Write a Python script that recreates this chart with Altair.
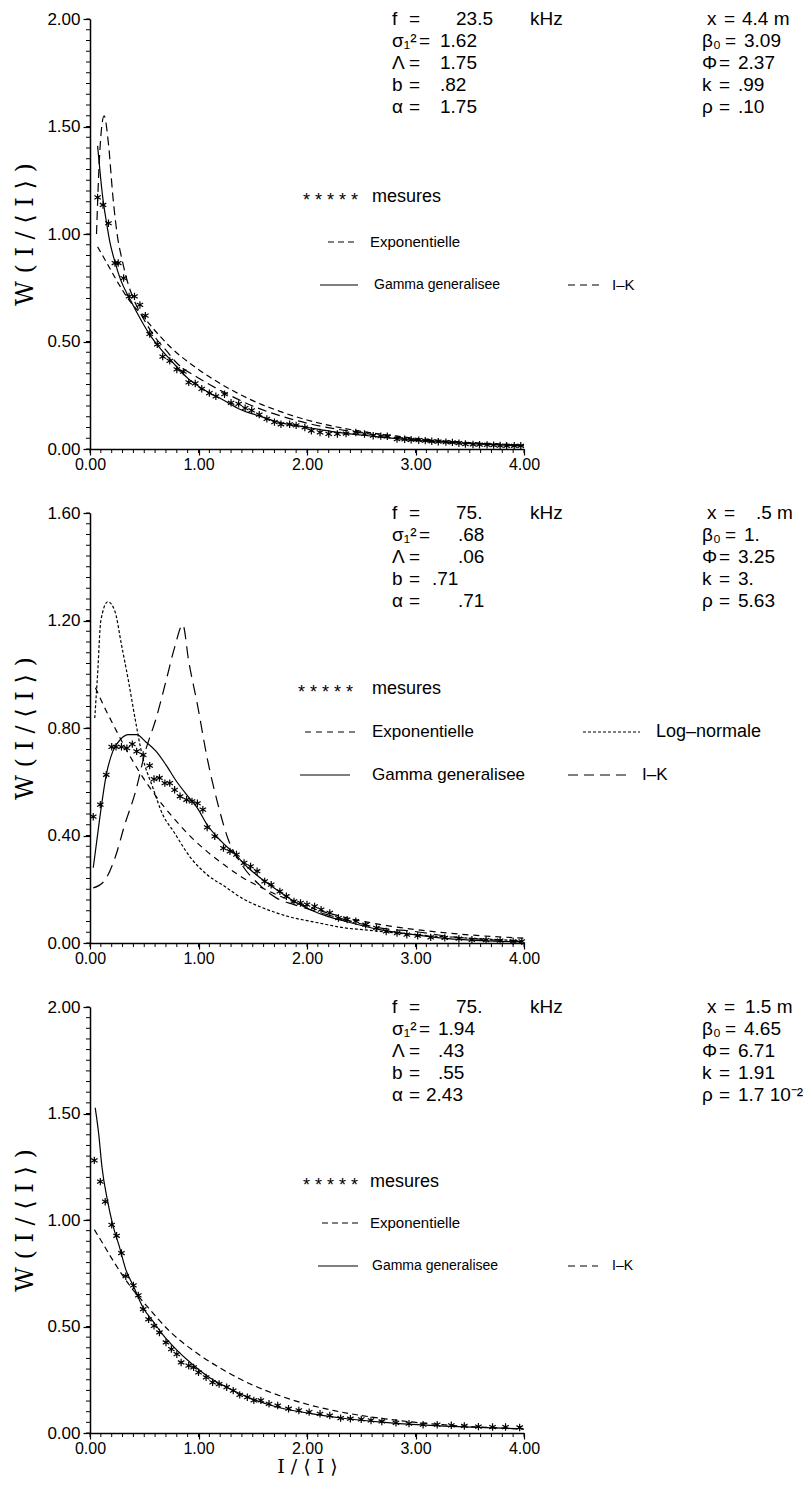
import altair as alt
import pandas as pd

# ---------------- data ----------------
# Panel 1 : f = 23.5 kHz, x = 4.4 m
p1_mes_x = [0.07, 0.12, 0.17, 0.23, 0.26, 0.31, 0.36, 0.41, 0.46, 0.51, 0.55, 0.62, 0.67, 0.735, 0.80, 0.86,
            0.91, 0.97, 1.03, 1.10, 1.16, 1.24, 1.30, 1.37, 1.43, 1.49, 1.56, 1.63, 1.70, 1.76, 1.84, 1.90,
            1.98, 2.04, 2.12, 2.20, 2.28, 2.36, 2.45, 2.53, 2.61, 2.68, 2.74, 2.83, 2.90, 2.96, 3.03, 3.09,
            3.15, 3.21, 3.28, 3.34, 3.40, 3.46, 3.53, 3.59, 3.66, 3.72, 3.78, 3.84, 3.91, 3.97]
p1_mes_y = [1.17, 1.135, 1.05, 0.865, 0.865, 0.795, 0.71, 0.71, 0.67, 0.62, 0.535, 0.487, 0.43, 0.41, 0.37, 0.36,
            0.31, 0.305, 0.28, 0.26, 0.245, 0.255, 0.215, 0.21, 0.19, 0.18, 0.16, 0.14, 0.125, 0.115, 0.115, 0.11,
            0.10, 0.085, 0.077, 0.07, 0.07, 0.072, 0.077, 0.07, 0.062, 0.06, 0.059, 0.046, 0.045, 0.043, 0.041, 0.039,
            0.036, 0.034, 0.032, 0.031, 0.027, 0.023, 0.021, 0.02, 0.019, 0.018, 0.016, 0.015, 0.015, 0.015]
p1_gam_x = [0.07, 0.10, 0.12, 0.15, 0.18, 0.23, 0.28, 0.37, 0.47, 0.56, 0.66, 0.75, 0.91, 1.07, 1.22, 1.38,
            1.55, 1.70, 1.85, 2.01, 2.25, 2.50, 2.75, 3.00, 3.25, 3.50, 3.75, 4.00]
p1_gam_y = [1.41, 1.25, 1.16, 1.06, 0.97, 0.87, 0.79, 0.695, 0.60, 0.525, 0.46, 0.41, 0.325, 0.27, 0.23, 0.185,
            0.155, 0.13, 0.113, 0.10, 0.08, 0.065, 0.052, 0.04, 0.032, 0.025, 0.019, 0.015]
p1_exp_x = [0.07, 0.15, 0.25, 0.35, 0.50, 0.60, 0.75, 1.00, 1.25, 1.50, 1.75, 2.00, 2.25, 2.50, 2.75, 3.00,
            3.25, 3.50, 3.75, 4.00]
p1_exp_y = [0.94, 0.87, 0.78, 0.70, 0.61, 0.55, 0.47, 0.37, 0.29, 0.225, 0.175, 0.135, 0.105, 0.082, 0.065, 0.05,
            0.039, 0.03, 0.024, 0.018]
p1_ik_x = [0.06, 0.09, 0.13, 0.17, 0.21, 0.25, 0.30, 0.35, 0.40, 0.50, 0.60, 0.70, 0.80, 1.00, 1.25, 1.50,
           1.75, 2.00, 2.50, 3.00, 3.50, 4.00]
p1_ik_y = [1.0, 1.38, 1.55, 1.42, 1.18, 1.0, 0.87, 0.77, 0.70, 0.60, 0.52, 0.46, 0.40, 0.33, 0.26, 0.20,
           0.155, 0.12, 0.075, 0.045, 0.028, 0.018]

# Panel 2 : f = 75 kHz, x = .5 m
p2_mes_x = [0.03, 0.095, 0.15, 0.20, 0.24, 0.29, 0.34, 0.39, 0.43, 0.49, 0.55, 0.59, 0.64, 0.69, 0.735, 0.78,
            0.83, 0.89, 0.94, 0.99, 1.04, 1.08, 1.15, 1.23, 1.29, 1.35, 1.42, 1.48, 1.54, 1.61, 1.67, 1.75,
            1.81, 1.88, 1.94, 2.00, 2.07, 2.13, 2.21, 2.29, 2.37, 2.45, 2.54, 2.64, 2.73, 2.83, 2.92, 3.02,
            3.14, 3.27, 3.40, 3.52, 3.65, 3.78, 3.90, 3.98]
p2_mes_y = [0.47, 0.515, 0.626, 0.73, 0.73, 0.73, 0.725, 0.74, 0.713, 0.70, 0.66, 0.61, 0.614, 0.595, 0.595, 0.57,
            0.546, 0.533, 0.527, 0.52, 0.496, 0.43, 0.397, 0.353, 0.341, 0.329, 0.298, 0.285, 0.267, 0.229, 0.217, 0.192,
            0.174, 0.155, 0.149, 0.143, 0.136, 0.124, 0.112, 0.093, 0.087, 0.081, 0.068, 0.056, 0.043, 0.037, 0.031, 0.027,
            0.021, 0.019, 0.016, 0.012, 0.011, 0.009, 0.006, 0.006]
p2_gam_x = [0.03, 0.085, 0.15, 0.21, 0.28, 0.355, 0.43, 0.51, 0.61, 0.70, 0.80, 0.89, 0.99, 1.08, 1.21, 1.34,
            1.46, 1.59, 1.72, 1.88, 2.03, 2.19, 2.35, 2.67, 2.99, 3.30, 3.62, 3.98]
p2_gam_y = [0.28, 0.45, 0.626, 0.713, 0.757, 0.775, 0.775, 0.75, 0.713, 0.663, 0.60, 0.552, 0.502, 0.44, 0.378, 0.329,
            0.279, 0.236, 0.198, 0.155, 0.124, 0.099, 0.081, 0.05, 0.031, 0.016, 0.009, 0.004]
p2_exp_x = [0.05, 0.13, 0.23, 0.32, 0.45, 0.61, 0.77, 0.93, 1.08, 1.24, 1.40, 1.56, 1.72, 1.88, 2.19, 2.50,
            2.75, 3.00, 3.50, 4.00]
p2_exp_y = [0.95, 0.88, 0.80, 0.73, 0.64, 0.545, 0.465, 0.395, 0.34, 0.29, 0.245, 0.21, 0.18, 0.153, 0.112, 0.082,
            0.064, 0.05, 0.03, 0.018]
p2_log_x = [0.044, 0.07, 0.10, 0.165, 0.23, 0.29, 0.355, 0.42, 0.48, 0.58, 0.67, 0.77, 0.93, 1.08, 1.24, 1.40,
            1.56, 1.72, 1.88, 2.03, 2.19, 2.35, 2.51, 2.99, 3.50, 3.94]
p2_log_y = [0.837, 1.0, 1.20, 1.27, 1.234, 1.11, 0.974, 0.825, 0.70, 0.577, 0.478, 0.415, 0.316, 0.254, 0.211, 0.167,
            0.136, 0.112, 0.093, 0.081, 0.068, 0.056, 0.05, 0.031, 0.018, 0.009]
p2_ik_x = [0.03, 0.13, 0.23, 0.32, 0.42, 0.51, 0.61, 0.70, 0.78, 0.855, 0.91, 0.99, 1.08, 1.18, 1.27, 1.40,
           1.56, 1.72, 1.88, 2.03, 2.35, 2.67, 2.99, 3.30, 3.98]
p2_ik_y = [0.205, 0.23, 0.316, 0.44, 0.564, 0.713, 0.837, 0.974, 1.10, 1.184, 1.048, 0.887, 0.688, 0.515, 0.39, 0.291,
           0.217, 0.167, 0.143, 0.124, 0.087, 0.056, 0.043, 0.025, 0.006]

# Panel 3 : f = 75 kHz, x = 1.5 m
p3_mes_x = [0.04, 0.095, 0.14, 0.20, 0.245, 0.29, 0.33, 0.40, 0.445, 0.49, 0.54, 0.59, 0.64, 0.70, 0.75, 0.80,
            0.84, 0.91, 0.955, 1.00, 1.07, 1.13, 1.19, 1.26, 1.32, 1.38, 1.45, 1.51, 1.575, 1.65, 1.73, 1.83,
            1.925, 2.02, 2.12, 2.21, 2.31, 2.40, 2.50, 2.59, 2.69, 2.82, 2.94, 3.07, 3.20, 3.33, 3.45, 3.58,
            3.71, 3.83, 3.96]
p3_mes_y = [1.28, 1.18, 1.086, 0.977, 0.926, 0.845, 0.736, 0.693, 0.646, 0.581, 0.534, 0.503, 0.472, 0.425, 0.394, 0.37,
            0.331, 0.316, 0.308, 0.285, 0.261, 0.238, 0.23, 0.215, 0.199, 0.179, 0.168, 0.153, 0.153, 0.137, 0.129, 0.114,
            0.106, 0.098, 0.09, 0.082, 0.07, 0.067, 0.064, 0.059, 0.054, 0.048, 0.044, 0.039, 0.039, 0.036, 0.033, 0.03,
            0.028, 0.028, 0.026]
p3_gam_x = [0.048, 0.08, 0.11, 0.16, 0.21, 0.27, 0.33, 0.40, 0.49, 0.59, 0.68, 0.78, 0.94, 1.10, 1.26, 1.42,
            1.73, 2.05, 2.37, 2.69, 3.01, 3.33, 3.64, 3.99]
p3_gam_y = [1.527, 1.405, 1.25, 1.094, 0.977, 0.876, 0.767, 0.69, 0.588, 0.518, 0.456, 0.40, 0.324, 0.261, 0.215, 0.176,
            0.121, 0.09, 0.067, 0.051, 0.039, 0.031, 0.025, 0.02]
p3_exp_x = [0.04, 0.10, 0.20, 0.30, 0.40, 0.50, 0.75, 1.00, 1.25, 1.50, 1.75, 2.00, 2.25, 2.50, 2.75, 3.00,
            3.25, 3.50, 3.75, 4.00]
p3_exp_y = [0.955, 0.905, 0.82, 0.74, 0.67, 0.61, 0.47, 0.37, 0.29, 0.225, 0.175, 0.135, 0.105, 0.082, 0.065, 0.05,
            0.039, 0.03, 0.024, 0.018]

# annotation texts
p1_left = [("f", "=", "23.5", "kHz"), ("σ₁²", "=", "1.62", ""), ("Λ", "=", "1.75", ""), ("b", "=", ".82", ""), ("α", "=", "1.75", "")]
p1_right = [("x", "=", "4.4  m"), ("β₀", "=", "3.09"), ("Φ", "=", "2.37"), ("k", "=", ".99"), ("ρ", "=", ".10")]
p2_left = [("f", "=", "75.", "kHz"), ("σ₁²", "=", ".68", ""), ("Λ", "=", ".06", ""), ("b", "=", ".71", ""), ("α", "=", ".71", "")]
p2_right = [("x", "=", ".5  m"), ("β₀", "=", "1."), ("Φ", "=", "3.25"), ("k", "=", "3."), ("ρ", "=", "5.63")]
p3_left = [("f", "=", "75.", "kHz"), ("σ₁²", "=", "1.94", ""), ("Λ", "=", ".43", ""), ("b", "=", ".55", ""), ("α", "=", "2.43", "")]
p3_right = [("x", "=", "1.5  m"), ("β₀", "=", "4.65"), ("Φ", "=", "6.71"), ("k", "=", "1.91"), ("ρ", "=", "1.7 10⁻²")]

# ---------------- layout ----------------
W = 434
HS = [430, 430, 426]   # plot heights of the three panels
X0 = 90                # page x of plot left edge
TOP0 = 19              # page y of first plot top edge
SP = 64                # vertical spacing between panels
TOPS = [TOP0, TOP0 + HS[0] + SP, TOP0 + HS[0] + HS[1] + 2 * SP]
SVG_W, SVG_H = 795, 1468
FONT = "Liberation Sans"
SERIF = "DejaVu Serif"
ASTERISK = "M0,-1L0,1M-0.87,-0.5L0.87,0.5M-0.87,0.5L0.87,-0.5"
YTITLE = "W   (   I   /   ⟨   I   ⟩   )"
XTITLE = "I   /   ⟨   I   ⟩"
AFS = 19               # annotation font size


def panel(idx, ymax, ymajor, yminor, stars, lines, left, right, value_x, legend, xtitle):
    top = TOPS[idx]
    H = HS[idx]
    xs = alt.Scale(domain=[0, 4], nice=False, zero=False)
    ys = alt.Scale(domain=[0, ymax], nice=False, zero=False)

    def dx(px):
        return (px - X0) / W * 4.0

    def dy(py):
        return ymax * (1 - (py - top) / H)

    xaxis = alt.Axis(values=[0, 1, 2, 3, 4], format=".2f", tickSize=6, labelFontSize=16, labelFont=FONT,
                     labelPadding=1, grid=False, title=xtitle, titleFont=SERIF, titleFontSize=19,
                     titleFontWeight="normal", titlePadding=1, labelFlush=False)
    yaxis = alt.Axis(values=ymajor, format=".2f", tickSize=7, labelFontSize=17, labelFont=FONT,
                     labelPadding=3, grid=False, title=YTITLE, titleFont=SERIF,
                     titleFontSize=24, titleFontWeight="normal", titlePadding=9)

    def X(f):
        return alt.X(f, scale=xs, axis=xaxis)

    def Y(f):
        return alt.Y(f, scale=ys, axis=yaxis)

    layers = []
    sx, sy = stars
    sdf = pd.DataFrame({"x": sx, "y": sy})
    layers.append(alt.Chart(sdf).mark_point(shape=ASTERISK, filled=False, size=55, strokeWidth=1.2,
                                            opacity=1, color="black").encode(x=X("x:Q"), y=Y("y:Q")))

    for (lx, ly, dash) in lines:
        ldf = pd.DataFrame({"x": lx, "y": ly})
        kw = dict(color="black", strokeWidth=1.2, interpolate="monotone")
        if dash:
            kw["strokeDash"] = dash
        layers.append(alt.Chart(ldf).mark_line(**kw).encode(x=X("x:Q"), y=Y("y:Q")))

    # minor ticks
    ymin_df = pd.DataFrame({"y": yminor})
    layers.append(alt.Chart(ymin_df).mark_rule(color="black", strokeWidth=1).encode(
        y=Y("y:Q"), x=alt.value(-4), x2=alt.value(0)))
    xmin_df = pd.DataFrame({"x": [round(i * 0.1, 2) for i in range(41)]})
    layers.append(alt.Chart(xmin_df).mark_rule(color="black", strokeWidth=1).encode(
        x=X("x:Q"), y=alt.value(H), y2=alt.value(H + 4)))

    # annotations
    rows_y = [top + 22 * i for i in range(5)]
    txt = []
    for i, (lab, eq, val, unit) in enumerate(left):
        y = dy(rows_y[i])
        txt.append((lab, dx(392), y, AFS))
        txt.append((eq, dx(419 if i == 1 else 409), y, AFS))
        txt.append((val, dx(value_x[i]), y, AFS))
        if unit:
            txt.append((unit, dx(530), y, AFS))
    for i, (lab, eq, val) in enumerate(right):
        y = dy(rows_y[i])
        lx = 707 if i == 0 else 702
        txt.append((lab, dx(lx), y, AFS))
        txt.append((eq, dx(lx + (23 if i == 1 else 17)), y, AFS))
        txt.append((val, dx(value_x[5 + i]), y, AFS))
    for (t, px, py, fs) in legend["texts"]:
        txt.append((t, dx(px), dy(py), fs))
    tdf = pd.DataFrame(txt, columns=["t", "x", "y", "s"])
    layers.append(alt.Chart(tdf).mark_text(align="left", baseline="middle", font=FONT, color="black").encode(
        x=X("x:Q"), y=Y("y:Q"), text="t:N", size=alt.Size("s:Q", scale=None, legend=None)))

    for (x1, x2, py, dash) in legend["rules"]:
        rdf = pd.DataFrame({"x": [dx(x1)], "x2": [dx(x2)], "y": [dy(py)]})
        kw = dict(color="black", strokeWidth=1.2)
        if dash:
            kw["strokeDash"] = dash
        layers.append(alt.Chart(rdf).mark_rule(**kw).encode(x=X("x:Q"), x2="x2:Q", y=Y("y:Q")))

    return alt.layer(*layers).properties(width=W, height=H)


minor_2 = [round(i * 0.05, 2) for i in range(41)]
minor_16 = [round(i * 0.04, 2) for i in range(41)]

t1 = TOPS[0]
leg1 = {"texts": [("* * * * *", 303, t1 + 182, 18), ("mesures", 372, t1 + 178, 18),
                  ("Exponentielle", 370, t1 + 223, 15),
                  ("Gamma  generalisee", 374, t1 + 266, 14), ("I–K", 612, t1 + 266, 15)],
        "rules": [(328, 358, t1 + 223, [6, 4]), (320, 358, t1 + 266, None), (568, 600, t1 + 266, [7, 5])]}
t2 = TOPS[1]
leg2 = {"texts": [("* * * * *", 298, t2 + 180, 18), ("mesures", 372, t2 + 176, 18),
                  ("Exponentielle", 372, t2 + 219, 17), ("Log–normale", 656, t2 + 219, 18),
                  ("Gamma  generalisee", 372, t2 + 262, 17), ("I–K", 642, t2 + 262, 17)],
        "rules": [(305, 358, t2 + 219, [6, 5]), (583, 640, t2 + 219, [3, 2]),
                  (300, 350, t2 + 262, None), (568, 628, t2 + 262, [10, 6])]}
t3 = TOPS[2]
leg3 = {"texts": [("* * * * *", 303, t3 + 179, 18), ("mesures", 370, t3 + 175, 18),
                  ("Exponentielle", 370, t3 + 216, 15),
                  ("Gamma  generalisee", 372, t3 + 259, 14), ("I–K", 612, t3 + 259, 14)],
        "rules": [(322, 358, t3 + 216, [6, 4]), (318, 358, t3 + 259, None), (568, 598, t3 + 259, [7, 5])]}

c1 = panel(0, 2.0, [0, 0.5, 1.0, 1.5, 2.0], minor_2, (p1_mes_x, p1_mes_y),
           [(p1_exp_x, p1_exp_y, [6, 4]), (p1_gam_x, p1_gam_y, None), (p1_ik_x, p1_ik_y, [9, 5])],
           p1_left, p1_right, [456, 440, 440, 440, 440, 742, 744, 738, 738, 738], leg1, "")
c2 = panel(1, 1.6, [0, 0.4, 0.8, 1.2, 1.6], minor_16, (p2_mes_x, p2_mes_y),
           [(p2_exp_x, p2_exp_y, [6, 5]), (p2_gam_x, p2_gam_y, None), (p2_log_x, p2_log_y, [3, 2]),
            (p2_ik_x, p2_ik_y, [12, 7])],
           p2_left, p2_right, [456, 458, 458, 432, 458, 756, 744, 738, 738, 738], leg2, "")
c3 = panel(2, 2.0, [0, 0.5, 1.0, 1.5, 2.0], minor_2, (p3_mes_x, p3_mes_y),
           [(p3_exp_x, p3_exp_y, [6, 4]), (p3_gam_x, p3_gam_y, None)],
           p3_left, p3_right, [456, 438, 438, 438, 426, 745, 744, 738, 738, 738], leg3, XTITLE)

# with autosize "none" the svg is padding + the concat's width (its height counts as 0 here)
chart = alt.vconcat(c1, c2, c3, spacing=SP, bounds="flush").properties(
    autosize=alt.AutoSizeParams(type="none"),
    padding={"left": X0 - 8, "top": TOP0 - 8, "right": SVG_W - (X0 - 8) - W, "bottom": SVG_H - (TOP0 - 8)},
).configure_view(stroke=None).configure_axis(
    domainColor="black", domainWidth=1.5, tickColor="black", tickWidth=1.2,
    labelColor="black", titleColor="black")

chart.save("out.html", embed_options={"renderer": "svg", "actions": False})
